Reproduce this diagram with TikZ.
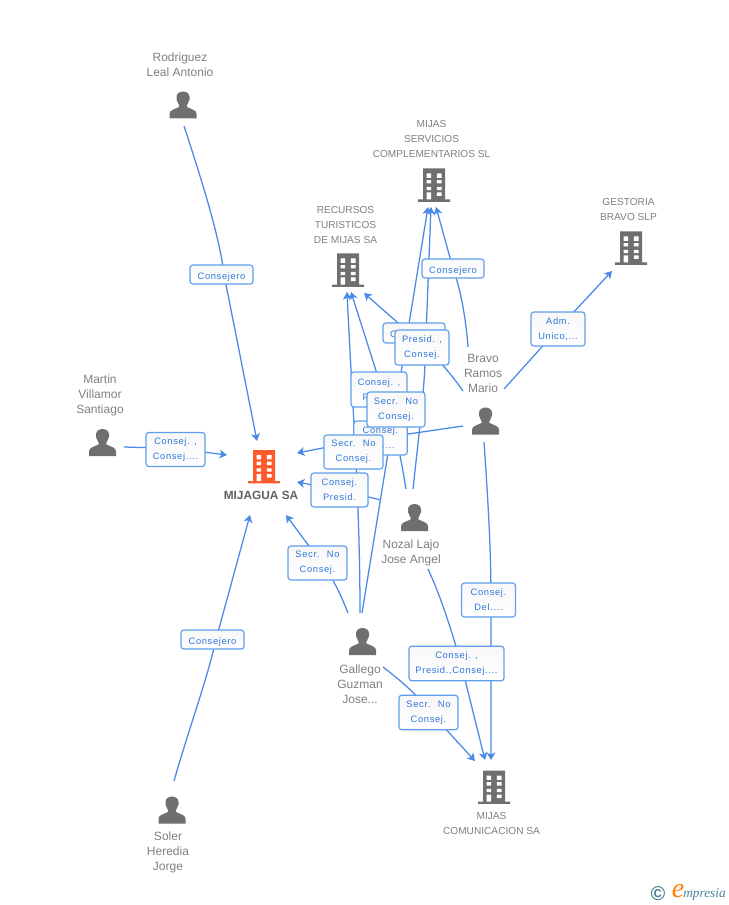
\documentclass[tikz,border=0pt]{standalone}
\usepackage{fontspec}
\setmainfont{Liberation Sans}
\newfontfamily\lblfont[LetterSpace=7]{Liberation Sans}
\newfontfamily\logofont{Liberation Serif}
\usetikzlibrary{arrows.meta,calc}
\definecolor{linkc}{HTML}{4A8AE6}
\definecolor{boxc}{HTML}{5F9EEC}
\definecolor{lblc}{HTML}{2F76DC}
\definecolor{txtc}{HTML}{7F7F7F}
\definecolor{iconc}{HTML}{6F6F6F}
\definecolor{orangec}{HTML}{FF5A2D}
\definecolor{logoc}{HTML}{4A8296}
\pgfdeclarelayer{edges}
\pgfsetlayers{edges,main}
\tikzset{
  x=.75pt,y=-.75pt,
  link/.style={draw=linkc,line width=.95pt,-{Stealth[length=5.6pt,width=6.6pt,inset=1.5pt]}},
  lbox/.style={draw=boxc,line width=.9pt,rounded corners=2.2pt,top color=black!3,bottom color=white,
     inner sep=0pt,align=center,text=lblc,font=\lblfont\fontsize{7}{11.25}\selectfont,
     execute at begin node={\rule{0pt}{8.3pt}}},
  person name/.style={text=txtc,align=center,inner sep=0pt,font=\fontsize{9}{11.25}\selectfont},
  firm name/.style={text=txtc,align=center,inner sep=0pt,font=\fontsize{7.6}{11.25}\selectfont},
  person/.pic={
    \fill[iconc] (-13.5,13.5) -- (-13.5,9) .. controls (-13.5,5) and (-9,4.5) .. (-4,2)
      .. controls (-3.5,1) and (-4,0) .. (-5,-2) .. controls (-7,-4) and (-6.5,-7) .. (-6.5,-8)
      .. controls (-6.5,-11.5) and (-3.5,-13.5) .. (0,-13.5)
      .. controls (3.5,-13.5) and (6.5,-11.5) .. (6.5,-8)
      .. controls (6.5,-7) and (7,-4) .. (5,-2) .. controls (4,0) and (3.5,1) .. (4,2)
      .. controls (9,4.5) and (13.5,5) .. (13.5,9) -- (13.5,13.5) -- cycle;
  },
  firm/.pic={
    \fill[pic actions] (-11,-16.5) rectangle (11,14.5) (-16,14.5) rectangle (16,16.8);
    \fill[white] (-7.3,-11.5) rectangle (-3,-7.2) (2.9,-11.5) rectangle (7.6,-7.2)
      (-7.3,-4.8) rectangle (-3,-1.5) (2.9,-4.8) rectangle (7.6,-1.5)
      (-7.3,1.8) rectangle (-3,5.2) (2.9,1.8) rectangle (7.6,5.2)
      (-7.3,7.5) rectangle (-3,14.5) (2.9,7.5) rectangle (7.6,11);
  },
}
\begin{document}
\begin{tikzpicture}
\useasboundingbox (0,0) rectangle (728,905);

% icons
\pic (pRod) at (183,105) {person};
\pic (pMar) at (102.5,442.5) {person};
\pic (pSol) at (172,810) {person};
\pic (pBra) at (485.5,421) {person};
\pic (pNoz) at (414.5,517.5) {person};
\pic (pGal) at (362.5,641.5) {person};
\pic[fill=orangec] (fMij) at (264,466.5) {firm};
\pic[fill=iconc] (fRec) at (348,270) {firm};
\pic[fill=iconc] (fSer) at (434,185) {firm};
\pic[fill=iconc] (fGes) at (631,248) {firm};
\pic[fill=iconc] (fCom) at (494,787) {firm};

% names
\node[person name] (nRod) at (180,64.5) {Rodriguez\\Leal Antonio};
\node[person name] (nMar) at (100,395) {Martin\\Villamor\\Santiago};
\node[person name] (nSol) at (168,852) {Soler\\Heredia\\Jorge};
\node[person name] (nBra) at (483,373) {Bravo\\Ramos\\Mario};
\node[person name] (nNoz) at (411,552.5) {Nozal Lajo\\Jose Angel};
\node[person name] (nGal) at (360,684) {Gallego\\Guzman\\Jose...};
\node[firm name] (nRec) at (345.5,225) {RECURSOS\\TURISTICOS\\DE MIJAS SA};
\node[firm name] (nSer) at (431.5,139) {MIJAS\\SERVICIOS\\COMPLEMENTARIOS SL};
\node[firm name] (nGes) at (628.5,209.5) {GESTORIA\\BRAVO SLP};
\node[firm name] (nCom) at (491.5,823.5) {MIJAS\\COMUNICACION SA};
\node[text=black!62,inner sep=0pt,font=\bfseries\fontsize{8.9}{11}\selectfont] (nMij) at (261,495.5) {MIJAGUA SA};

% connector ends
\coordinate (oRod) at (184,126);   \coordinate (iMijA) at (257,441);
\coordinate (oMar) at (124,447);   \coordinate (iMijB) at (227,455);
\coordinate (oSol) at (174,781);   \coordinate (iMijC) at (250,515);
\coordinate (oGalA) at (348,613);  \coordinate (iMijD) at (286,515);
\coordinate (oNozA) at (381,500);  \coordinate (iMijE) at (297,482);
\coordinate (oBraA) at (463,426);  \coordinate (iMijF) at (297,453);
\coordinate (oGalB) at (360,613);  \coordinate (iRecA) at (347,292);
\coordinate (oNozB) at (406,489);  \coordinate (iRecB) at (351,292);
\coordinate (oBraB) at (463,391);  \coordinate (iRecC) at (364,293);
\coordinate (oGalC) at (362,613);  \coordinate (iSerA) at (428,207);
\coordinate (oNozC) at (413,489);  \coordinate (iSerB) at (431,207);
\coordinate (oBraC) at (468,347);  \coordinate (iSerC) at (436,207);
\coordinate (oBraD) at (504,389);  \coordinate (iGes) at (612,271);
\coordinate (oBraE) at (484,442);  \coordinate (iComA) at (491,760);
\coordinate (oNozD) at (428,569);  \coordinate (iComB) at (485,760);
\coordinate (oGalD) at (383,667);  \coordinate (iComC) at (475,761);

% labels, back to front
\node[lbox,minimum width=47.25pt,minimum height=14.25pt] (l1) at (221.5,274.5) {Consejero};
\node[lbox,minimum width=44.25pt,minimum height=25.5pt] (l2) at (175.5,449.5) {Consej. ,\\Consej....};
\node[lbox,minimum width=47.25pt,minimum height=14.25pt] (l3) at (212.5,639.5) {Consejero};
\node[lbox,minimum width=44.25pt,minimum height=25.5pt] (l4) at (317.5,563) {Secr.~ No\\Consej.};
\node[lbox,minimum width=42.75pt,minimum height=25.5pt] (l5) at (339.5,490) {Consej.\\Presid.};
\node[lbox,minimum width=40.5pt,minimum height=25.5pt] (l6) at (488.5,600) {Consej.\\Del....};
\node[lbox,minimum width=71.25pt,minimum height=26pt] (l7) at (456.5,663.5) {Consej. ,\\Presid.,Consej....};
\node[lbox,minimum width=44.25pt,minimum height=26pt] (l8) at (428.5,712.5) {Secr.~ No\\Consej.};
\node[lbox,minimum width=40.5pt,minimum height=25.5pt] (l9) at (558,329) {Adm.\\Unico,...};
\node[lbox,minimum width=46.5pt,minimum height=14.25pt] (l10) at (453,268.5) {Consejero};
\node[lbox,minimum width=46.5pt,minimum height=15pt] (l11) at (414,333) {Consejero};
\node[lbox,minimum width=40.5pt,minimum height=26.25pt] (l12) at (422,347.5) {Presid. ,\\Consej.};
\node[lbox,minimum width=40pt,minimum height=25.5pt] (l13) at (380.5,438) {Consej.\\Del....};
\node[lbox,minimum width=42pt,minimum height=26.25pt] (l14) at (379,389.5) {Consej. ,\\Presid.};
\node[lbox,minimum width=43.5pt,minimum height=26.25pt] (l15) at (396,409.5) {Secr.~ No\\Consej.};
\node[lbox,minimum width=44.25pt,minimum height=25.5pt] (l16) at (353.5,452) {Secr.~ No\\Consej.};

% connectors
\begin{pgfonlayer}{edges}
\draw[link] (oRod) .. controls (205,190) and (220,240) .. ([shift={(2.5,0)}]l1.center) -- (iMijA);
\draw[link] (oMar) -- ([shift={(0,-1)}]l2.center) -- (iMijB);
\draw[link] (oSol) .. controls (190,725) and (207,680) .. ([shift={(3.5,0)}]l3.center) -- (iMijC);
\draw[link] (oGalA) .. controls (342,598) and (335,581) .. ([shift={(4,0)}]l4.center) -- (iMijD);
\draw[link] (oNozA) -- (l5.center) -- (iMijE);
\draw[link] (oBraA) -- ([shift={(0,-10)}]l16.center) -- (iMijF);
\draw[link] (oGalB) .. controls (360,500) and (352,400) .. (iRecA);
\draw[link] (oNozB) .. controls (398,440) and (390,410) .. ([shift={(3,0)}]l14.center) -- (iRecB);
\draw[link] (oBraB) .. controls (450,372) and (430,350) .. ([shift={(0,4)}]l11.center) -- (iRecC);
\draw[link] (oGalC) -- (iSerA);
\draw[link] (oNozC) .. controls (420,425) and (425,385) .. ([shift={(3.5,0)}]l12.center) -- (iSerB);
\draw[link] (oBraC) .. controls (466,320) and (461,290) .. (l10.center) -- (iSerC);
\draw[link] (oBraD) -- (l9.center) -- (iGes);
\draw[link] (oBraE) .. controls (488,500) and (491,550) .. ([shift={(2.5,0)}]l6.center) -- (iComA);
\draw[link] (oNozD) .. controls (440,595) and (450,625) .. ([shift={(4.5,0)}]l7.center) -- (iComB);
\draw[link] (oGalD) .. controls (400,680) and (420,697) .. ([shift={(2,0)}]l8.center) -- (iComC);
\end{pgfonlayer}

% logo
\node[text=logoc,inner sep=0pt,font=\bfseries\fontsize{15}{15}\selectfont] (logoC) at (658,894) {©};
\node[text=orange,inner sep=0pt,font=\logofont\itshape\fontsize{21}{21}\selectfont] (logoE) at (678,891) {e};
\node[text=logoc,inner sep=0pt,anchor=west,font=\logofont\itshape\fontsize{10}{10}\selectfont] (logoT) at (683,894) {mpresia};
\end{tikzpicture}
\end{document}
